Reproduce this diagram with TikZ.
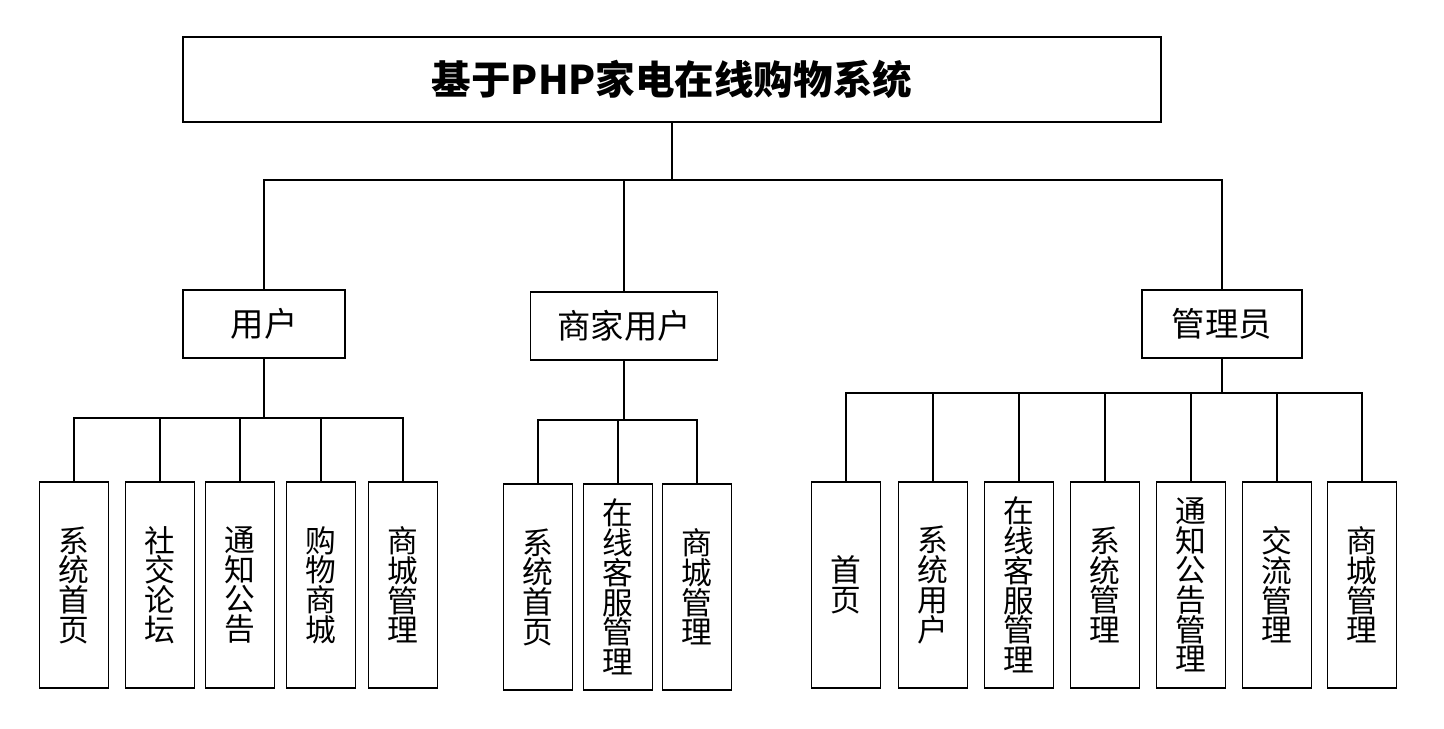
\documentclass[tikz,border=0pt]{standalone}
\usepackage{fontspec}
\newfontfamily\cjk{Noto Sans CJK SC}
\usetikzlibrary{positioning}

\begin{document}
\begin{tikzpicture}[x=0.02cm,y=-0.02cm,
  box/.style={draw,line width=1pt,inner sep=0pt,font=\cjk\fontsize{19}{22}\selectfont},
  leaf/.style={draw,line width=1pt,inner sep=0pt,minimum width=1.38cm,minimum height=4.12cm,
    align=center,font=\cjk\fontsize{17.5}{16.9}\selectfont},
  link/.style={line width=0.7pt}]
\useasboundingbox (0,0) rectangle (1444,728);
% 系统
\node[box,minimum width=19.56cm,minimum height=1.7cm,
  font=\cjk\bfseries\fontsize{22.5}{26}\selectfont] (sys) at (672,79.5) {基于PHP家电在线购物系统};
% 角色
\node[box,minimum width=3.24cm,minimum height=1.36cm] (user) at (264,324) {用户};
\node[box,minimum width=3.74cm,minimum height=1.36cm] (shop) at (624,326) {商家用户};
\node[box,minimum width=3.2cm,minimum height=1.36cm] (admin) at (1222,324) {管理员};
\coordinate (top) at (672,180);
\draw[link] (sys.south) -- (top);
\foreach \r in {user,shop,admin}{
  \draw[link] (top) -| (\r.north);
}
% 用户功能
\coordinate (ubus) at (264,418);
\foreach \x/\t [count=\i] in {74/{系\\统\\首\\页},160/{社\\交\\论\\坛},240/{通\\知\\公\\告},
  321/{购\\物\\商\\城},403/{商\\城\\管\\理}}{
  \node[leaf] (u\i) at (\x,585) {\t};
  \draw[link] (user.south) -- (ubus) -| (u\i.north);
}
% 商家功能
\coordinate (sbus) at (624,420);
\foreach \x/\t [count=\i] in {538/{系\\统\\首\\页},618/{在\\线\\客\\服\\管\\理},697/{商\\城\\管\\理}}{
  \node[leaf] (s\i) at (\x,587) {\t};
  \draw[link] (shop.south) -- (sbus) -| (s\i.north);
}
% 管理员功能
\coordinate (abus) at (1222,393);
\foreach \x/\t [count=\i] in {846/{首\\页},933/{系\\统\\用\\户},1019/{在\\线\\客\\服\\管\\理},
  1105/{系\\统\\管\\理},1191/{通\\知\\公\\告\\管\\理},1277/{交\\流\\管\\理},1362/{商\\城\\管\\理}}{
  \node[leaf] (a\i) at (\x,585) {\t};
  \draw[link] (admin.south) -- (abus) -| (a\i.north);
}
\end{tikzpicture}
\end{document}
